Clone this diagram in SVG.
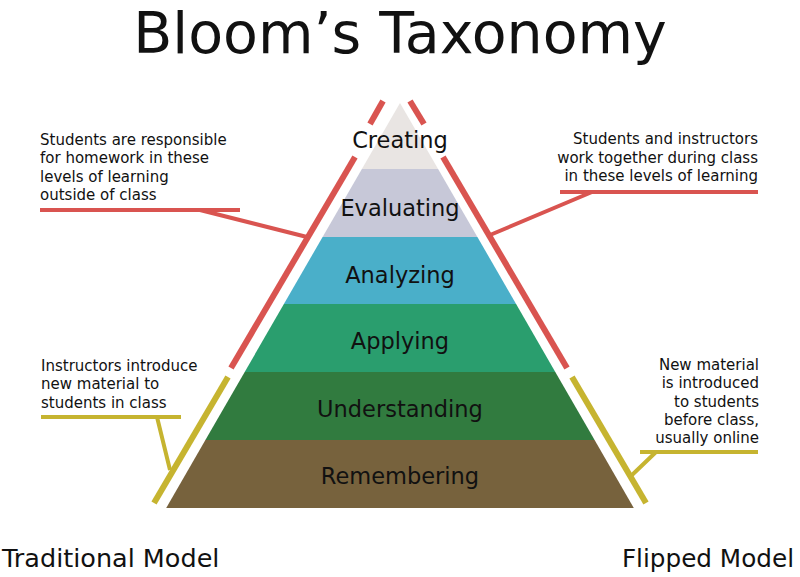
<svg xmlns="http://www.w3.org/2000/svg" width="800" height="577" viewBox="0 0 800 577">
<style>
text{font-family:"DejaVu Sans","Liberation Sans",sans-serif;fill:#111}
.title{font-size:57px}
.lvl{font-size:22.5px;text-anchor:middle}
.note{font-size:15px}
.r{text-anchor:end}
.red{stroke:#d95450;fill:none}
.yel{stroke:#c6b430;fill:none}
.main{stroke-width:6}
.lead{stroke-width:4}
</style>
<rect width="800" height="577" fill="#fff"/>
<text class="title" x="400" y="53" text-anchor="middle">Bloom’s Taxonomy</text>
<g id="creating"><polygon points="400,103 438.1,169 361.9,169" fill="#e9e5e3"/><text class="lvl" x="400" y="148">Creating</text></g>
<g id="evaluating"><polygon points="361.9,169 438.1,169 477.4,237 322.6,237" fill="#c7c8d8"/><text class="lvl" x="400" y="216">Evaluating</text></g>
<g id="analyzing"><polygon points="322.6,237 477.4,237 516.1,304 283.9,304" fill="#4aafc9"/><text class="lvl" x="400" y="283">Analyzing</text></g>
<g id="applying"><polygon points="283.9,304 516.1,304 555.3,372 244.7,372" fill="#2a9e6e"/><text class="lvl" x="400" y="349">Applying</text></g>
<g id="understanding"><polygon points="244.7,372 555.3,372 594.6,440 205.4,440" fill="#317b3f"/><text class="lvl" x="400" y="417">Understanding</text></g>
<g id="remembering"><polygon points="205.4,440 594.6,440 633.8,508 166.2,508" fill="#77623d"/><text class="lvl" x="400" y="484">Remembering</text></g>
<g id="connectors">
<line class="red main" x1="383" y1="101" x2="370" y2="124"/>
<line class="red main" x1="355" y1="157" x2="231" y2="368"/>
<line class="yel main" x1="228" y1="377" x2="154" y2="503"/>
<line class="red main" x1="410" y1="101" x2="424" y2="124"/>
<line class="red main" x1="443" y1="157" x2="567" y2="368"/>
<line class="yel main" x1="572" y1="377" x2="646" y2="503"/>
<path class="red lead" d="M40,210H240M200,210L307,237"/>
<path class="red lead" d="M560,192H758M592,192L490,235"/>
<path class="yel lead" d="M41,417H181M157,417L170,470"/>
<path class="yel lead" d="M640,452H758M656,452L632,475"/>
</g>
<g id="note-homework">
<text class="note" x="40" y="145">Students are responsible</text>
<text class="note" x="40" y="163">for homework in these</text>
<text class="note" x="40" y="182">levels of learning</text>
<text class="note" x="40" y="200">outside of class</text>
</g>
<g id="note-together">
<text class="note r" x="758" y="144">Students and instructors</text>
<text class="note r" x="758" y="163">work together during class</text>
<text class="note r" x="758" y="181">in these levels of learning</text>
</g>
<g id="note-instructors">
<text class="note" x="41" y="371">Instructors introduce</text>
<text class="note" x="41" y="389">new material to</text>
<text class="note" x="41" y="408">students in class</text>
</g>
<g id="note-new">
<text class="note r" x="759" y="370">New material</text>
<text class="note r" x="759" y="388">is introduced</text>
<text class="note r" x="759" y="407">to students</text>
<text class="note r" x="759" y="425">before class,</text>
<text class="note r" x="759" y="443">usually online</text>
</g>
<text x="2" y="567" font-size="25.5">Traditional Model</text>
<text class="r" x="794" y="567" font-size="24.7">Flipped Model</text>
</svg>
